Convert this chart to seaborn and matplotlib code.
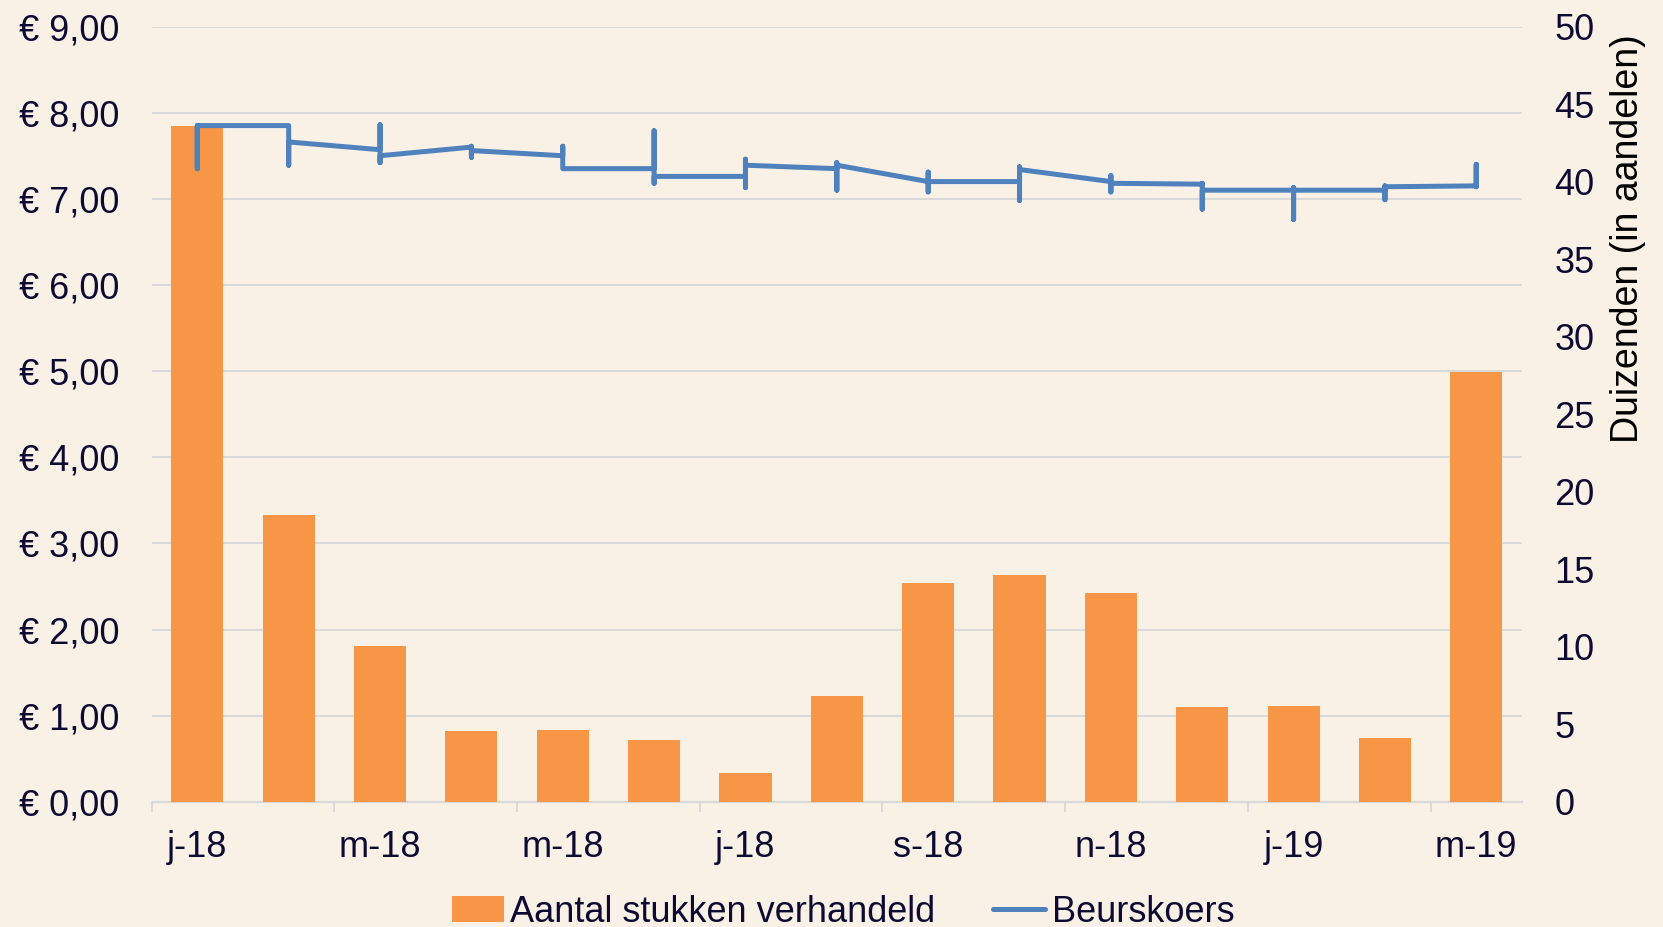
import matplotlib
matplotlib.use("Agg")
import matplotlib.pyplot as plt
import seaborn as sns
import pandas as pd
from matplotlib.patches import Patch
from matplotlib.lines import Line2D

# ---- data ----
months = ["j-18", "f-18", "m-18", "a-18", "m-18", "j-18", "j-18", "a-18",
          "s-18", "o-18", "n-18", "d-18", "j-19", "f-19", "m-19"]
volume = [43.6, 18.5, 10.05, 4.6, 4.65, 4.0, 1.85, 6.85, 14.1, 14.6, 13.5, 6.1, 6.15, 4.1, 27.7]
price_first = [7.35, 7.85, 7.57, 7.60, 7.50, 7.35, 7.26, 7.35, 7.20, 7.20, 7.20, 7.17, 7.10, 7.10, 7.15]
price_high = [7.85, 7.85, 7.86, 7.61, 7.61, 7.79, 7.46, 7.42, 7.31, 7.37, 7.27, 7.18, 7.13, 7.15, 7.40]
price_low = [7.35, 7.39, 7.42, 7.48, 7.35, 7.18, 7.13, 7.10, 7.08, 6.98, 7.08, 6.88, 6.76, 6.99, 7.14]
price_last = [7.85, 7.66, 7.50, 7.56, 7.35, 7.26, 7.39, 7.39, 7.20, 7.34, 7.18, 7.10, 7.10, 7.14, 7.40]
left_ticks = [0, 1, 2, 3, 4, 5, 6, 7, 8, 9]
right_ticks = [0, 5, 10, 15, 20, 25, 30, 35, 40, 45, 50]

BG = "#F9F1E6"
ORANGE = "#F79646"
BLUE = "#4F81BD"
TXT = "#0E0B33"
GRID = "#D9D9D9"
FS = 26

sns.set_style("white")
plt.rcParams["font.family"] = ["Liberation Sans", "DejaVu Sans"]

fig = plt.figure(figsize=(16.63, 9.27), dpi=100, facecolor=BG)
ax = fig.add_axes([0.0912, 0.135, 0.9152 - 0.0912, 0.9714 - 0.135])
ax.set_facecolor(BG)
ax2 = ax.twinx()   # bars, right axis
ax3 = ax.twinx()   # line, left scale

# bars
df_bar = pd.DataFrame({"m": range(len(months)), "v": volume})
sns.barplot(data=df_bar, x="m", y="v", ax=ax2, color=ORANGE, saturation=1,
            width=0.57, native_scale=True, edgecolor="none")

# line: per month first -> high -> low -> last at same x
xs, ys = [], []
for i in range(len(months)):
    for v in (price_first[i], price_high[i], price_low[i], price_last[i]):
        xs.append(i)
        ys.append(v)
df_line = pd.DataFrame({"x": xs, "y": ys})
sns.lineplot(data=df_line, x="x", y="y", ax=ax3, sort=False, estimator=None,
             color=BLUE, lw=3.6, solid_capstyle="round", solid_joinstyle="round")

# limits
for a in (ax, ax2, ax3):
    a.set_xlim(-0.5, 14.5)
ax.set_ylim(0, 9)
ax3.set_ylim(0, 9)
ax2.set_ylim(0, 50)

# left axis
ax.set_yticks(left_ticks)
ax.set_yticklabels([f"€ {v},00" for v in left_ticks])
ax.tick_params(axis="y", length=0, pad=23.5, labelsize=FS, labelcolor=TXT)
ax.grid(axis="y", color=GRID, lw=1.4)
ax.grid(axis="x", visible=False)
ax.set_axisbelow(True)

# right axis
ax2.set_yticks(right_ticks)
ax2.set_yticklabels([str(v) for v in right_ticks])
ax2.tick_params(axis="y", length=0, pad=23.5, labelsize=FS, labelcolor=TXT)
ax2.set_ylabel("")
ax2.set_xlabel("")
ax2.grid(False)

ax3.set_axis_off()

# x axis
ax.set_xticks(list(range(0, len(months), 2)))
ax.set_xticklabels(months[::2])
ax.set_xticks([k - 0.5 for k in range(0, len(months), 2)], minor=True)
ax.tick_params(axis="x", which="major", length=0, pad=20, labelsize=FS, labelcolor=TXT)
ax.tick_params(axis="x", which="minor", length=7.5, width=1.4, color=GRID, bottom=True)
ax.set_xlabel("")
ax.set_ylabel("")

for a in (ax, ax2, ax3):
    for s in a.spines.values():
        s.set_visible(False)
ax.spines["bottom"].set_visible(True)
ax.spines["bottom"].set_color(GRID)
ax.spines["bottom"].set_linewidth(1.6)

# right label
fig.text(0.979, 0.7426, "Duizenden (in aandelen)", rotation=90, ha="center",
         va="center", fontsize=27, color="black")

# legend
handles = [Patch(facecolor=ORANGE, edgecolor="none"),
           Line2D([], [], color=BLUE, lw=3.6, solid_capstyle="round")]
leg = fig.legend(handles, ["Aantal stukken verhandeld", "Beurskoers"],
                 loc="center", bbox_to_anchor=(0.507, 0.016), ncol=2,
                 frameon=False, fontsize=FS, handlelength=1.44,
                 handletextpad=0.18, columnspacing=1.6, borderpad=0,
                 borderaxespad=0)
for t in leg.get_texts():
    t.set_color(TXT)

fig.savefig("out.png", dpi=100, facecolor=BG)
